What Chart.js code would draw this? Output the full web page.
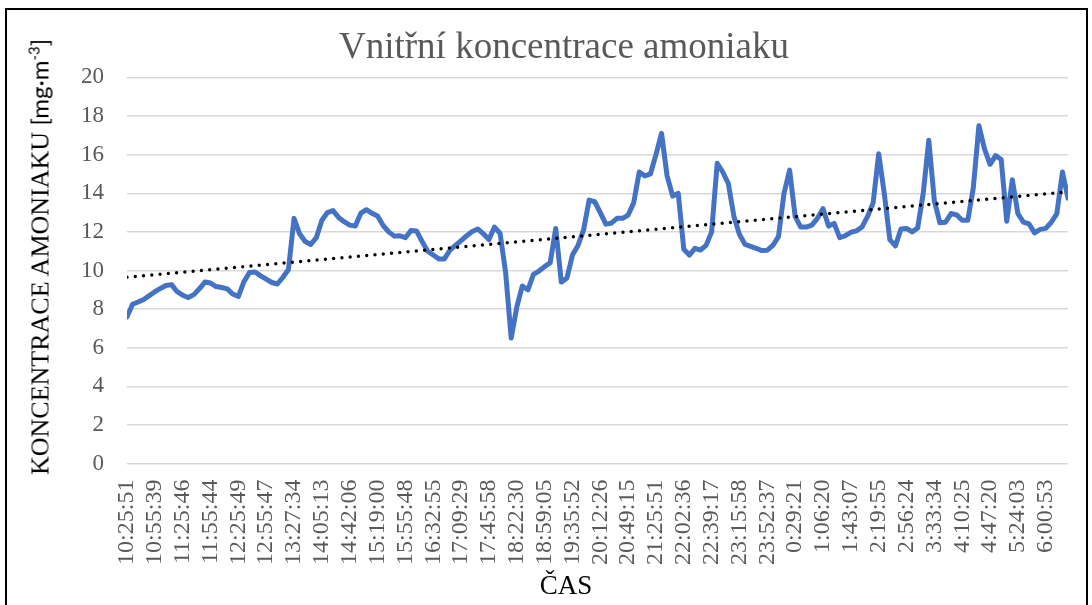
<!DOCTYPE html>
<html lang="cs">
<head>
<meta charset="utf-8">
<title>Vnitřní koncentrace amoniaku</title>
<script src="https://cdn.jsdelivr.net/npm/chart.js@4.4.1/dist/chart.umd.min.js"></script>
<style>
  html, body { margin: 0; padding: 0; background: #fff; }
  body { width: 1092px; height: 605px; position: relative; overflow: hidden; }
  #frame {
    position: absolute; left: 5px; top: 8px; width: 1083px; height: 700px;
    border: 2px solid #000; box-sizing: border-box;
  }
  #chart { position: absolute; left: 0; top: 0; }
  .axis-title { position: absolute; white-space: nowrap; color: #000; }
  #y-title {
    left: 40px; top: 257px;
    transform: translate(-50%, -50%) rotate(-90deg);
    font-family: 'Liberation Serif', 'Times New Roman', serif; font-size: 26px;
  }
  #y-title .unit { font-family: Lato, 'Noto Sans', sans-serif; font-size: 24px; }
  #y-title sup { font-size: 0.62em; }
  #x-title {
    left: 566px; top: 585px; transform: translate(-50%, -50%);
    font-family: 'Liberation Serif', 'Times New Roman', serif; font-size: 27px;
  }
</style>
</head>
<body>
<div id="frame"></div>
<canvas id="chart" width="1092" height="605"></canvas>
<div class="axis-title" id="y-title">KONCENTRACE AMONIAKU <span class="unit">[mg·m<sup>-3</sup>]</span></div>
<div class="axis-title" id="x-title">ČAS</div>

<script>
// tick labels shown on the time axis (one every few samples)
const tickLabels = [
  '10:25:51', '10:55:39', '11:25:46', '11:55:44', '12:25:49', '12:55:47',
  '13:27:34', '14:05:13', '14:42:06', '15:19:00', '15:55:48', '16:32:55',
  '17:09:29', '17:45:58', '18:22:30', '18:59:05', '19:35:52', '20:12:26',
  '20:49:15', '21:25:51', '22:02:36', '22:39:17', '23:15:58', '23:52:37',
  '0:29:21', '1:06:20', '1:43:07', '2:19:55', '2:56:24', '3:33:34',
  '4:10:25', '4:47:20', '5:24:03', '6:00:53',
];
const samplesPerTick = 5;

// ammonia concentration [mg·m-3]
const concentration = [
  7.6, 8.25, 8.37, 8.5, 8.7, 8.9, 9.07, 9.22, 9.27, 8.9,
  8.72, 8.6, 8.75, 9.05, 9.4, 9.35, 9.17, 9.12, 9.05, 8.78,
  8.65, 9.42, 9.9, 9.92, 9.72, 9.55, 9.38, 9.3, 9.65, 10.05,
  12.7, 11.9, 11.5, 11.35, 11.7, 12.6, 13.0, 13.1, 12.75, 12.53,
  12.35, 12.3, 12.97, 13.15, 12.96, 12.82, 12.33, 12.0, 11.78, 11.8,
  11.7, 12.07, 12.05, 11.5, 11.0, 10.8, 10.6, 10.6, 11.05, 11.3,
  11.55, 11.8, 12.02, 12.15, 11.9, 11.6, 12.25, 11.93, 9.9, 6.5,
  8.1, 9.2, 9.0, 9.8, 9.97, 10.2, 10.4, 12.18, 9.4, 9.6,
  10.8, 11.3, 12.1, 13.65, 13.56, 13.0, 12.4, 12.45, 12.7, 12.7,
  12.87, 13.5, 15.1, 14.9, 15.0, 16.0, 17.1, 14.9, 13.85, 14.0,
  11.1, 10.8, 11.15, 11.06, 11.3, 12.0, 15.55, 15.1, 14.5, 12.8,
  11.86, 11.35, 11.25, 11.15, 11.03, 11.05, 11.3, 11.75, 14.0, 15.2,
  12.8, 12.25, 12.25, 12.35, 12.7, 13.2, 12.3, 12.44, 11.7, 11.8,
  11.98, 12.05, 12.25, 12.8, 13.5, 16.05, 14.0, 11.6, 11.27, 12.15,
  12.18, 12.0, 12.2, 14.0, 16.75, 13.6, 12.47, 12.5, 12.95, 12.88,
  12.6, 12.6, 14.3, 17.5, 16.3, 15.5, 15.95, 15.75, 12.55, 14.7,
  12.95, 12.5, 12.41, 11.95, 12.13, 12.18, 12.5, 12.95, 15.1, 13.74,
];

// linear trend line, start and end values
const trendEnds = [9.65, 14.07];

const yTicks = { min: 0, max: 20, step: 2 };

const C = {
  line: '#4472c4',
  trend: '#000000',
  grid: '#d9d9d9',
  tick: '#595959',
};

const lastIndex = concentration.length - 1;
const seriesPoints = concentration.map((v, i) => ({ x: i, y: v }));
const trendPoints = [
  { x: 0, y: trendEnds[0] },
  { x: lastIndex, y: trendEnds[1] },
];

new Chart(document.getElementById('chart'), {
  type: 'line',
  data: {
    datasets: [
      {
        label: 'Lineární trend',
        data: trendPoints,
        borderColor: C.trend,
        borderWidth: 3.4,
        borderDash: [0, 8.3],
        borderCapStyle: 'round',
        pointRadius: 0,
        order: 0,
      },
      {
        label: 'Koncentrace amoniaku',
        data: seriesPoints,
        borderColor: C.line,
        borderWidth: 5,
        borderJoinStyle: 'round',
        borderCapStyle: 'round',
        pointRadius: 0,
        tension: 0,
        order: 1,
      },
    ],
  },
  options: {
    responsive: false,
    animation: false,
    layout: { padding: { left: 60, right: 24, top: 0, bottom: 0 } },
    plugins: {
      legend: { display: false },
      tooltip: { enabled: false },
      title: {
        display: true,
        text: 'Vnitřní koncentrace amoniaku',
        color: C.tick,
        font: { family: 'Liberation Serif', size: 37, weight: 'normal' },
        padding: { top: 26, bottom: 7 },
      },
    },
    scales: {
      x: {
        type: 'linear',
        min: 0,
        max: lastIndex,
        grid: { display: false },
        border: { display: false },
        ticks: {
          stepSize: samplesPerTick,
          includeBounds: false,
          autoSkip: false,
          minRotation: 90,
          maxRotation: 90,
          padding: 8,
          color: C.tick,
          font: { family: 'Liberation Serif', size: 24 },
          callback: (v) => (v % samplesPerTick === 0 ? tickLabels[v / samplesPerTick] : ''),
        },
        afterFit: (scale) => { scale.height = 141.4; },
      },
      y: {
        min: yTicks.min,
        max: yTicks.max,
        grid: { color: C.grid, lineWidth: 1.4, drawTicks: false },
        border: { display: false },
        ticks: {
          stepSize: yTicks.step,
          padding: 23,
          color: C.tick,
          font: { family: 'Liberation Serif', size: 23 },
        },
        afterFit: (scale) => { scale.width = 67; },
      },
    },
  },
});
</script>
</body>
</html>
